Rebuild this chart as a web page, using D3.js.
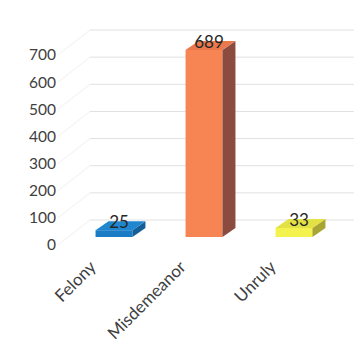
<!DOCTYPE html>
<html>
<head>
<meta charset="utf-8">
<script src="https://cdn.jsdelivr.net/npm/d3@7"></script>
<style>
  body { margin: 0; background: #fff; }
  svg { display: block; }
  text { font-family: Lato, "Open Sans", sans-serif; }
</style>
</head>
<body>
<div id="chart"></div>
<script>
// Chart data
let categories = ["Felony", "Misdemeanor", "Unruly"];
let values = [25, 689, 33];
let tickValues = [0, 100, 200, 300, 400, 500, 600, 700];

// face colours for each bar: front, top, side
let frontColors = ["#1b7cc6", "#f78453", "#f4f24c"];
let topColors = ["#2086d0", "#ea784c", "#e2e245"];
let sideColors = ["#155f98", "#8c4b3f", "#a8a532"];

let width = 354;
let height = 344;

// 3D depth of the bars (pixels, up and right)
let depthX = 13;
let depthY = -9;

// back wall sits further away than the bar fronts
let wallX = 24;
let wallY = -17;

let svg = d3.select("#chart")
    .append("svg")
    .attr("width", width)
    .attr("height", height);

// value scale on the plane of the bar fronts
let y = d3.scaleLinear()
    .domain([0, 700])
    .range([237, 47]);

let x = d3.scaleBand()
    .domain(categories)
    .range([69, 339])
    .paddingInner(0.59)
    .paddingOuter(0.295);

// Gridlines on the back wall
svg.append("g")
    .selectAll("line")
    .data(tickValues)
    .enter().append("line")
    .attr("x1", 90)
    .attr("x2", width)
    .attr("y1", d => y(d) + wallY)
    .attr("y2", d => y(d) + wallY)
    .style("stroke", "#e0e0e0")
    .style("stroke-width", 1);

// faint lines on the side wall, running from the labels to the gridlines
svg.append("g")
    .selectAll("line")
    .data(tickValues)
    .enter().append("line")
    .attr("x1", 58)
    .attr("x2", 90)
    .attr("y1", d => y(d) + 8)
    .attr("y2", d => y(d) + wallY)
    .style("stroke", "#f0f0f0")
    .style("stroke-width", 1);

// Value axis labels
svg.append("g")
    .selectAll("text")
    .data(tickValues)
    .enter().append("text")
    .attr("x", 56)
    .attr("y", d => y(d) + 8)
    .attr("dy", "0.35em")
    .attr("text-anchor", "end")
    .style("font-size", "15.5px")
    .style("fill", "#404040")
    .text(d => d);

// Bars: front face, side face, top face
let bars = svg.append("g")
    .selectAll("g")
    .data(categories)
    .enter().append("g")
    .attr("class", "bar");

bars.append("rect")
    .attr("x", d => x(d))
    .attr("y", (d, i) => y(values[i]))
    .attr("width", x.bandwidth())
    .attr("height", (d, i) => y(0) - y(values[i]))
    .style("fill", (d, i) => frontColors[i]);

bars.append("polygon")
    .attr("points", (d, i) => {
        let x1 = x(d) + x.bandwidth();
        let top = y(values[i]);
        let base = y(0);
        return [[x1, top], [x1 + depthX, top + depthY],
                [x1 + depthX, base + depthY], [x1, base]].join(" ");
    })
    .style("fill", (d, i) => sideColors[i]);

bars.append("polygon")
    .attr("points", (d, i) => {
        let x0 = x(d);
        let x1 = x0 + x.bandwidth();
        let top = y(values[i]);
        return [[x0, top], [x0 + depthX, top + depthY],
                [x1 + depthX, top + depthY], [x1, top]].join(" ");
    })
    .style("fill", (d, i) => topColors[i]);

// Data labels over the bar tops
svg.append("g")
    .selectAll("text")
    .data(categories)
    .enter().append("text")
    .attr("x", d => x(d) + x.bandwidth() / 2 + 5)
    .attr("y", (d, i) => y(values[i]) - 2)
    .attr("text-anchor", "middle")
    .style("font-size", "17px")
    .style("fill", "#262626")
    .text((d, i) => values[i]);

// Category labels, rotated
svg.append("g")
    .selectAll("text")
    .data(categories)
    .enter().append("text")
    .attr("transform", d => `translate(${x(d) + x.bandwidth() / 2 - 17}, 268) rotate(-45)`)
    .attr("text-anchor", "end")
    .style("font-size", "17px")
    .style("fill", "#404040")
    .text(d => d);
</script>
</body>
</html>
